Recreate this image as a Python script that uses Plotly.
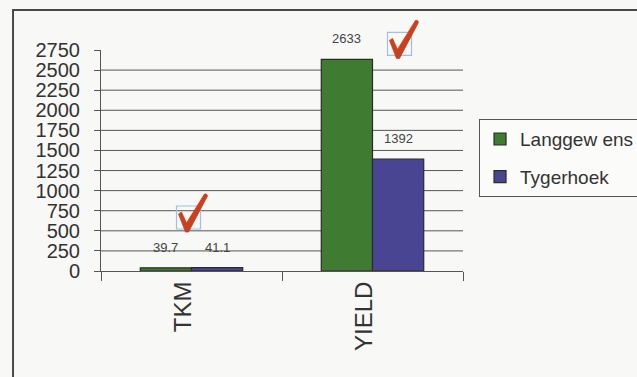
import plotly.graph_objects as go

# Chart data
categories = ["TKM", "YIELD"]
langgewens = [39.7, 2633]
tygerhoek = [41.1, 1392]
series_names = ["Langgew ens", "Tygerhoek"]
y_ticks = list(range(0, 2751, 250))
y_max = y_ticks[-1]

GREEN = "#3f7c31"
BLUE = "#4a4592"
EDGE = "#2b2b2b"
TEXT = "#333333"
FONT = "Liberation Sans, Arial, sans-serif"

fig = go.Figure()
for name, vals, col, grp in [(series_names[0], langgewens, GREEN, "a"),
                             (series_names[1], tygerhoek, BLUE, "b")]:
    fig.add_trace(go.Bar(
        x=categories, y=vals, name=name, legendgroup=grp,
        marker=dict(color=col, line=dict(color=EDGE, width=1.2)),
    ))

# value labels above each bar
offsets = [-26, 26]
for vals, dx in [(langgewens, offsets[0]), (tygerhoek, offsets[1])]:
    for cat, v in zip(categories, vals):
        fig.add_annotation(x=cat, y=v, xshift=dx, yshift=11, text=str(v),
                           showarrow=False, yanchor="bottom",
                           font=dict(family=FONT, size=13, color="#444444"))

shapes = []
# horizontal gridlines (no line at the top of the range)
for t in y_ticks[1:-1]:
    shapes.append(dict(type="line", xref="paper", yref="y", x0=0, x1=1,
                       y0=t, y1=t, line=dict(color="#555555", width=1),
                       layer="below"))

# hand-drawn style tick marks with a light box, anchored to a category
def check(idx, val, bx, by):
    xa = (idx + 0.5) / len(categories)
    ya = val / y_max
    pts = [(-8, 18), (-5, 20), (0, 9), (18, 38), (20, 38), (21, 36),
           (2, 0), (-1, 0)]
    path = "M " + " L ".join(f"{bx + px},{by + py}" for px, py in pts) + " Z"
    shapes.append(dict(type="rect", xref="paper", yref="paper",
                       xsizemode="pixel", ysizemode="pixel",
                       xanchor=xa, yanchor=ya,
                       x0=bx - 10, x1=bx + 14, y0=by + 3, y1=by + 26,
                       line=dict(color="#9cc0e6", width=1.2)))
    shapes.append(dict(type="path", xref="paper", yref="paper",
                       xsizemode="pixel", ysizemode="pixel",
                       xanchor=xa, yanchor=ya,
                       path=path, fillcolor="#c9401e",
                       line=dict(color="#c9401e", width=0.8)))

check(0, 0, -5, 39)
check(1, langgewens[1], 25, 1)

# outer frame
shapes.append(dict(type="rect", xref="paper", yref="paper",
                   x0=-0.243, x1=1.9, y0=-0.7, y1=1.181,
                   line=dict(color="#4a4a44", width=2)))

fig.update_layout(
    width=637, height=377,
    margin=dict(l=101, r=174, t=50, b=106),
    paper_bgcolor="#f8f8f6", plot_bgcolor="rgba(0,0,0,0)",
    barmode="group", bargap=0.434, bargroupgap=0,
    font=dict(family=FONT, color=TEXT),
    shapes=shapes,
    showlegend=True,
    legend=dict(xref="container", yref="container",
                x=0.752, y=0.684, xanchor="left", yanchor="top",
                bgcolor="#fbfbfa", bordercolor="#555555", borderwidth=1,
                font=dict(family=FONT, size=19, color=TEXT),
                itemwidth=30,
                traceorder="grouped", tracegroupgap=10),
    xaxis=dict(showgrid=False, showline=True, linecolor="#555555",
               linewidth=1, ticks="outside", tickson="boundaries",
               ticklen=9, tickcolor="#555555", tickangle=-90,
               ticklabelshift=-8,
               tickfont=dict(family=FONT, size=24, color=TEXT)),
    yaxis=dict(range=[0, y_max], tickvals=y_ticks, showgrid=False,
               zeroline=False, showline=True, linecolor="#555555",
               linewidth=1, ticks="outside", ticklen=6, tickcolor="#555555",
               ticklabelstandoff=10,
               tickfont=dict(family=FONT, size=20, color=TEXT)),
)

fig.write_html("out.html")
